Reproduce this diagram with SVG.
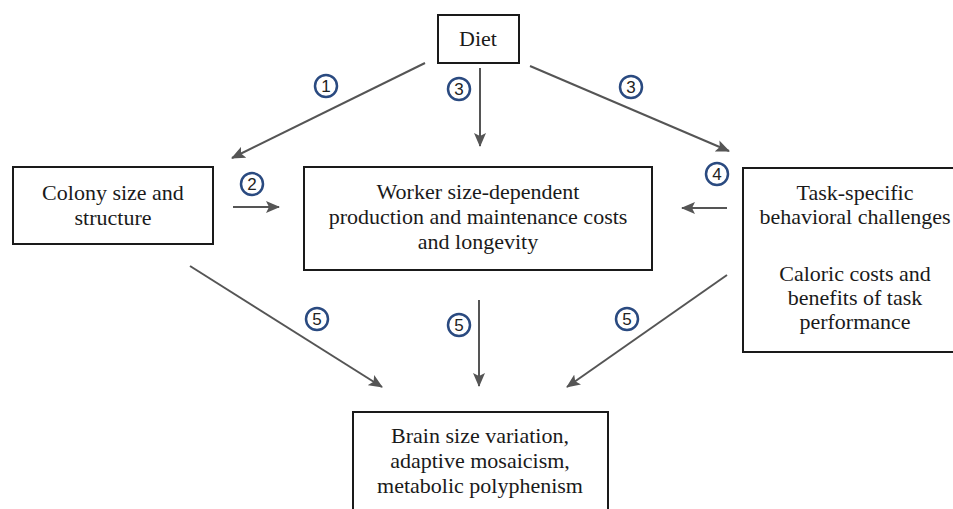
<svg xmlns="http://www.w3.org/2000/svg" width="953" height="509" viewBox="0 0 953 509">
<defs>
<marker id="ah" markerUnits="userSpaceOnUse" markerWidth="14" markerHeight="12" refX="13" refY="6" orient="auto">
<path d="M0,0 L14,6 L0,12 L3,6 Z" fill="#555"/>
</marker>
<style>
.box{fill:#fff;stroke:#1a1a1a;stroke-width:2}
.t{font-family:"Liberation Serif","Times New Roman",serif;font-size:22px;fill:#1a1a1a;text-anchor:middle}
.c{fill:#fff;stroke:#2a4a80;stroke-width:2.5}
.n{font-family:"Liberation Sans",Arial,sans-serif;font-size:17px;fill:#222;text-anchor:middle}
.e{stroke:#555;stroke-width:2;fill:none;marker-end:url(#ah)}
</style>
</defs>
<rect width="953" height="509" fill="#fff"/>
<g id="diet"><rect class="box" x="438" y="15" width="81" height="48"/><text class="t" x="478" y="46">Diet</text></g>
<g id="colony"><rect class="box" x="13" y="167" width="200" height="77"/><text class="t" x="113" y="200">Colony size and</text><text class="t" x="113" y="225">structure</text></g>
<g id="worker"><rect class="box" x="304" y="167" width="348" height="103"/><text class="t" x="478" y="199">Worker size-dependent</text><text class="t" x="478" y="224">production and maintenance costs</text><text class="t" x="478" y="249">and longevity</text></g>
<g id="task"><rect class="box" x="743" y="168" width="220" height="184"/><text class="t" x="855" y="200">Task-specific</text><text class="t" x="855" y="224">behavioral challenges</text><text class="t" x="855" y="281">Caloric costs and</text><text class="t" x="855" y="305">benefits of task</text><text class="t" x="855" y="329">performance</text></g>
<g id="brain"><rect class="box" x="353" y="412" width="255" height="110"/><text class="t" x="480" y="443">Brain size variation,</text><text class="t" x="480" y="468">adaptive mosaicism,</text><text class="t" x="480" y="493">metabolic polyphenism</text></g>
<g id="connectors">
<line class="e" x1="425" y1="63" x2="232" y2="158"/>
<line class="e" x1="480" y1="68" x2="480" y2="146"/>
<line class="e" x1="530" y1="66" x2="729" y2="151"/>
<line class="e" x1="233" y1="207" x2="279" y2="207"/>
<line class="e" x1="727" y1="208" x2="682" y2="208"/>
<line class="e" x1="190" y1="266" x2="382" y2="387"/>
<line class="e" x1="479" y1="300" x2="479" y2="386"/>
<line class="e" x1="727" y1="275" x2="567" y2="387"/>
</g>
<g id="labels">
<circle class="c" cx="326" cy="86" r="11"/><text class="n" x="326" y="92">1</text>
<circle class="c" cx="459" cy="89" r="11"/><text class="n" x="459" y="95">3</text>
<circle class="c" cx="631" cy="87" r="11"/><text class="n" x="631" y="93">3</text>
<circle class="c" cx="252" cy="184" r="11"/><text class="n" x="252" y="190">2</text>
<circle class="c" cx="717" cy="174" r="11"/><text class="n" x="717" y="180">4</text>
<circle class="c" cx="317" cy="319" r="11"/><text class="n" x="317" y="325">5</text>
<circle class="c" cx="459" cy="325" r="11"/><text class="n" x="459" y="331">5</text>
<circle class="c" cx="627" cy="319" r="11"/><text class="n" x="627" y="325">5</text>
</g>
</svg>
